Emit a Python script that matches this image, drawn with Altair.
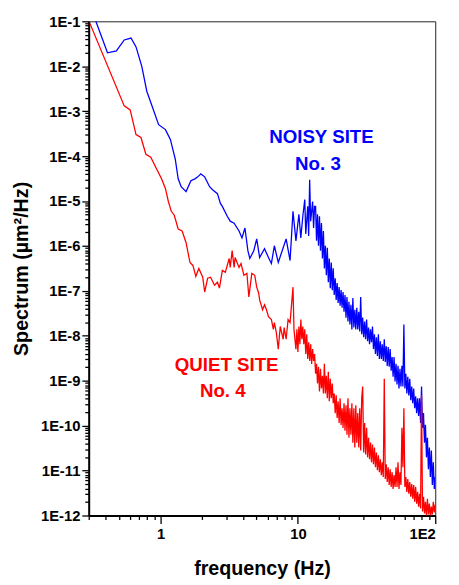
import altair as alt
import pandas as pd

# ---- data (frequency in Hz, spectrum in um^2/Hz) ----
# NOISY SITE No. 3 : low-frequency part
noisy_freq_low = [
    0.338, 0.411, 0.477, 0.544, 0.61, 0.663, 0.731, 0.794, 0.862, 0.968,
    1.086, 1.179, 1.28, 1.344, 1.413, 1.534, 1.664, 1.778, 1.868, 1.963,
    2.096, 2.276, 2.392, 2.595, 2.728, 2.818, 3.059, 3.215, 3.433, 3.728,
    3.917, 4.115, 4.324, 4.468, 4.773, 5.012, 5.266, 5.715, 6.105, 6.413,
    6.738, 7.197, 7.814, 8.21, 8.769, 9.21, 9.676, 10.17, 10.5, 10.86,
    11.22, 11.41, 11.79, 11.98, 12.18, 12.39, 12.8, 13.01, 13.22,
]
noisy_spec_low = [
    1e-1, 1.99e-2, 2.2e-2, 3.84e-2, 4.25e-2, 2.69e-2, 9.8e-3, 2.78e-3, 1.37e-3, 5.0e-4,
    3.89e-4, 2.35e-4, 8.57e-5, 3.12e-5, 2.08e-5, 1.62e-5, 2.82e-5, 3.12e-5, 3.45e-5, 4.02e-5,
    3.45e-5, 2.08e-5, 1.79e-5, 1.46e-5, 8.85e-6, 7.6e-6, 4.59e-6, 3.56e-6, 3.22e-6, 2.15e-6,
    1.51e-6, 2.51e-6, 7.85e-7, 5.25e-7, 7.85e-7, 1.44e-6, 5.51e-7, 8.68e-7, 5.51e-7, 4.07e-7,
    1.01e-6, 4.28e-7, 9.13e-7, 1.44e-6, 4.74e-7, 5.9e-6, 1.3e-6, 5.08e-6, 1.51e-6, 4.59e-6,
    1.08e-5, 1.85e-6, 7.6e-6, 1.67e-6, 2.96e-5, 3.56e-6, 9.77e-6, 2.51e-6, 7.6e-6,
]
# NOISY SITE No. 3 : dense high-frequency part
noisy_freq_high = [
    13.45, 13.67, 13.89, 14.12, 14.36, 14.60, 14.84, 15.09, 15.34, 15.59,
    15.85, 16.11, 16.38, 16.65, 16.93, 17.21, 17.50, 17.79, 18.08, 18.38,
    18.69, 19.00, 19.31, 19.63, 19.96, 20.29, 20.63, 20.97, 21.32, 21.67,
    22.03, 22.40, 22.77, 23.15, 23.53, 23.92, 24.32, 24.72, 25.13, 25.55,
    25.97, 26.40, 26.84, 27.28, 27.74, 28.20, 28.66, 29.14, 29.62, 30.11,
    30.61, 31.12, 31.64, 32.16, 32.70, 33.24, 33.79, 34.35, 34.92, 35.50,
    36.09, 36.69, 37.30, 37.92, 38.55, 39.19, 39.84, 40.50, 41.17, 41.85,
    42.55, 43.25, 43.97, 44.70, 45.44, 46.19, 46.96, 47.74, 48.53, 49.33,
    50.15, 50.98, 51.83, 52.69, 53.56, 54.45, 55.35, 56.27, 57.20, 58.15,
    59.11, 60.09, 61.09, 62.10, 63.13, 64.18, 65.24, 66.32, 67.42, 68.54,
    69.68, 70.83, 72.01, 73.20, 74.41, 75.65, 76.90, 78.18, 79.47, 80.79,
    82.13, 83.49, 84.87, 86.28, 87.71, 89.16, 90.64, 92.14, 93.67, 95.22,
    96.80, 98.40, 100.0,
]
noisy_spec_high = [
    7.60e-6, 1.30e-6, 5.08e-6, 1.01e-6, 4.59e-6, 7.85e-7, 3.22e-6, 5.24e-7, 2.15e-6, 3.17e-7,
    1.01e-6, 2.22e-7, 9.13e-7, 1.56e-7, 5.24e-7, 1.15e-7, 4.28e-7, 1.04e-7, 3.17e-7, 8.10e-8,
    1.91e-7, 6.30e-8, 1.49e-7, 5.41e-8, 1.21e-7, 4.65e-8, 1.04e-7, 4.21e-8, 9.43e-8, 3.44e-8,
    8.10e-8, 2.54e-8, 7.33e-8, 2.08e-8, 5.69e-8, 1.78e-8, 4.90e-8, 1.39e-8, 6.97e-8, 1.53e-8,
    3.80e-8, 1.39e-8, 4.21e-8, 1.39e-8, 3.44e-8, 1.25e-8, 7.33e-8, 1.08e-8, 2.54e-8, 9.26e-9,
    2.08e-8, 8.37e-9, 2.30e-8, 7.57e-9, 1.53e-8, 6.51e-9, 1.39e-8, 7.19e-9, 1.61e-8, 5.06e-9,
    1.08e-8, 3.93e-9, 9.26e-9, 3.55e-9, 1.08e-8, 3.05e-9, 7.57e-9, 3.05e-9, 6.51e-9, 2.76e-9,
    8.37e-9, 2.62e-9, 5.88e-9, 2.14e-9, 5.59e-9, 2.04e-9, 5.06e-9, 1.67e-9, 3.38e-9, 1.23e-9,
    3.38e-9, 9.57e-10, 2.37e-9, 8.22e-10, 2.14e-9, 6.72e-10, 1.84e-9, 7.43e-10, 2.14e-9, 7.43e-10,
    1.78e-8, 6.72e-10, 1.43e-9, 5.22e-10, 1.23e-9, 4.72e-10, 1.11e-9, 3.67e-10, 7.43e-10, 3.15e-10,
    6.72e-10, 2.45e-10, 4.49e-10, 1.90e-10, 4.06e-10, 1.64e-10, 4.06e-10, 1.15e-10, 7.43e-10, 8.93e-11,
    1.90e-10, 4.19e-11, 1.04e-10, 1.97e-11, 5.39e-11, 1.07e-11, 3.26e-11, 7.17e-12, 2.80e-11, 4.79e-12,
    1.53e-11, 3.91e-12, 7.17e-12,
]

# QUIET SITE No. 4 : low-frequency part
quiet_freq_low = [
    0.306, 0.544, 0.601, 0.663, 0.72, 0.782, 0.849, 0.921, 1.017, 1.086,
    1.14, 1.198, 1.259, 1.344, 1.436, 1.534, 1.638, 1.72, 1.807, 1.9,
    2.028, 2.096, 2.202, 2.313, 2.471, 2.595, 2.683, 2.818, 2.961, 3.162,
    3.215, 3.322, 3.433, 3.49, 3.728, 3.853, 4.048, 4.253, 4.395, 4.618,
    4.852, 5.012, 5.18, 5.266, 5.53, 5.715, 5.906, 6.105, 6.413, 6.628,
    6.738, 6.964, 7.197, 7.438, 7.814, 7.943, 8.21, 8.484, 8.769, 9.21,
    9.363,
]
quiet_spec_low = [
    9e-2, 1.31e-3, 1.07e-3, 3.02e-4, 2.6e-4, 1.1e-4, 9.46e-5, 5.71e-5, 3.12e-5, 1.88e-5,
    9.77e-6, 5.9e-6, 4.83e-6, 2.38e-6, 2.15e-6, 1.18e-6, 4.28e-7, 3.68e-7, 2.11e-7, 3.16e-7,
    2.01e-7, 9.43e-8, 1.91e-7, 2.01e-7, 1.34e-7, 1.56e-7, 1.15e-7, 2.86e-7, 2.59e-7, 5.25e-7,
    3.33e-7, 7.85e-7, 3.33e-7, 5.51e-7, 3.33e-7, 4.07e-7, 2.22e-7, 2.46e-7, 7.33e-8, 2.46e-7,
    2.22e-7, 1.21e-7, 8.97e-8, 6.3e-8, 3.8e-8, 4.9e-8, 3.8e-8, 2.67e-8, 2.3e-8, 1.39e-8,
    1.97e-8, 1.19e-8, 5.06e-9, 1.61e-8, 8.38e-9, 1.53e-8, 8.38e-9, 2.3e-8, 1.97e-8, 1.21e-7,
    1.39e-8,
]
# QUIET SITE No. 4 : dense high-frequency part
quiet_freq_high = [
    9.676, 9.837, 10.0, 10.17, 10.34, 10.51, 10.68, 10.86, 11.04, 11.22,
    11.41, 11.60, 11.79, 11.99, 12.19, 12.39, 12.59, 12.80, 13.02, 13.23,
    13.45, 13.67, 13.89, 14.12, 14.36, 14.60, 14.84, 15.09, 15.34, 15.59,
    15.85, 16.11, 16.38, 16.65, 16.93, 17.21, 17.50, 17.79, 18.08, 18.38,
    18.69, 19.00, 19.31, 19.63, 19.96, 20.29, 20.63, 20.97, 21.32, 21.67,
    22.03, 22.40, 22.77, 23.15, 23.53, 23.92, 24.32, 24.72, 25.13, 25.55,
    25.97, 26.40, 26.84, 27.28, 27.74, 28.20, 28.66, 29.14, 29.62, 30.11,
    30.61, 31.12, 31.64, 32.16, 32.70, 33.24, 33.79, 34.35, 34.92, 35.50,
    36.09, 36.69, 37.30, 37.92, 38.55, 39.19, 39.84, 40.50, 41.17, 41.85,
    42.55, 43.25, 43.97, 44.70, 45.44, 46.19, 46.96, 47.74, 48.53, 49.33,
    50.15, 50.98, 51.83, 52.69, 53.56, 54.45, 55.35, 56.27, 57.20, 58.15,
    59.11, 60.09, 61.09, 62.10, 63.13, 64.18, 65.24, 66.32, 67.42, 68.54,
    69.68, 70.83, 72.01, 73.20, 74.41, 75.65, 76.90, 78.18, 79.47, 80.79,
    82.13, 83.49, 84.87, 86.28, 87.71, 89.16, 90.64, 92.14, 93.67, 95.22,
    96.80, 98.40, 100.0,
]
quiet_spec_high = [
    5.06e-9, 1.39e-8, 4.35e-9, 1.61e-8, 6.51e-9, 2.30e-8, 8.37e-9, 1.61e-8, 6.51e-9, 1.39e-8,
    3.93e-9, 1.08e-8, 3.05e-9, 7.19e-9, 2.76e-9, 6.51e-9, 2.37e-9, 5.06e-9, 2.76e-9, 3.93e-9,
    1.43e-9, 2.37e-9, 8.65e-10, 2.04e-9, 5.78e-10, 1.84e-9, 6.72e-10, 1.29e-9, 5.22e-10, 2.37e-9,
    5.22e-10, 1.29e-9, 4.06e-10, 1.58e-9, 3.49e-10, 1.11e-9, 4.06e-10, 8.65e-10, 3.15e-10, 5.22e-10,
    1.90e-10, 4.72e-10, 1.48e-10, 3.49e-10, 1.15e-10, 4.06e-10, 1.04e-10, 2.45e-10, 8.93e-11, 3.15e-10,
    7.68e-11, 2.85e-10, 6.27e-11, 4.06e-10, 5.39e-11, 2.45e-10, 6.27e-11, 3.15e-10, 4.19e-11, 2.45e-10,
    3.26e-11, 2.85e-10, 4.19e-11, 1.90e-10, 3.26e-11, 2.45e-10, 2.80e-11, 4.06e-10, 7.43e-10, 2.53e-11,
    1.15e-10, 2.29e-11, 8.93e-11, 1.97e-11, 5.39e-11, 1.78e-11, 4.19e-11, 1.53e-11, 3.79e-11, 1.38e-11,
    3.26e-11, 1.19e-11, 2.53e-11, 1.02e-11, 2.18e-11, 9.22e-12, 1.78e-11, 7.93e-12, 1.53e-11, 7.17e-12,
    1.11e-9, 6.48e-12, 1.38e-11, 5.57e-12, 1.19e-11, 4.79e-12, 1.07e-11, 4.33e-12, 9.22e-12, 3.91e-12,
    7.93e-12, 4.33e-12, 1.19e-11, 4.33e-12, 1.53e-11, 3.91e-12, 9.22e-12, 4.79e-12, 8.93e-11, 1.19e-11,
    2.45e-10, 4.33e-12, 7.17e-12, 3.36e-12, 6.48e-12, 3.04e-12, 5.57e-12, 2.61e-12, 5.04e-12, 2.36e-12,
    4.79e-12, 2.03e-12, 4.33e-12, 1.84e-12, 3.36e-12, 1.58e-12, 3.04e-12, 1.43e-12, 4.72e-10, 1.23e-12,
    2.61e-12, 1.11e-12, 2.03e-12, 9.53e-13, 2.36e-12, 1.05e-12, 1.84e-12, 9.53e-13, 1.58e-12, 1.05e-12,
    2.03e-12, 1.17e-12, 1.75e-12,
]

note_text = ["NOISY SITE", "No. 3", "QUIET SITE", "No. 4"]
note_freq = [14.84, 14.0, 3.03, 2.84]
note_spec = [2.6e-4, 6.65e-5, 2.25e-9, 5.78e-10]
note_site = ["noisy", "noisy", "quiet", "quiet"]

x_ticks = [k / 10 for k in range(3, 10)] + list(range(1, 10)) + [10 * k for k in range(1, 10)] + [100]
y_ticks = [k * 10.0 ** e for e in range(-12, -1) for k in range(1, 10)] + [0.1]

assert len(noisy_freq_low) == len(noisy_spec_low)
assert len(noisy_freq_high) == len(noisy_spec_high)
assert len(quiet_freq_low) == len(quiet_spec_low)
assert len(quiet_freq_high) == len(quiet_spec_high)

BLUE = "#0000ff"
RED = "#ff0000"
FONT = "Liberation Sans"

noisy_df = pd.DataFrame({"freq": noisy_freq_low + noisy_freq_high,
                         "spec": noisy_spec_low + noisy_spec_high})
quiet_df = pd.DataFrame({"freq": quiet_freq_low + quiet_freq_high,
                         "spec": quiet_spec_low + quiet_spec_high})
notes_df = pd.DataFrame({"text": note_text, "freq": note_freq, "spec": note_spec, "site": note_site})

major = "abs(log(datum.value)/LN10 - round(log(datum.value)/LN10)) < 0.01"

x_scale = alt.Scale(type="log", domain=[0.3, 100], nice=False)
y_scale = alt.Scale(type="log", domain=[1e-12, 1e-1], nice=False)

x_axis = alt.Axis(
    title="frequency (Hz)",
    values=x_ticks,
    labelExpr="datum.value == 1 ? '1' : datum.value == 10 ? '10' : datum.value == 100 ? '1E2' : ''",
    tickSize={"condition": {"test": major, "value": 8}, "value": 4},
    labelOverlap=False,
    labelPadding=3,
    titleX=176,
    titleY=54,
    titleBaseline="middle",
    titleAlign="center",
)
y_axis = alt.Axis(
    title="Spectrum (µm²/Hz)",
    values=y_ticks,
    labelExpr=major + " ? '1E' + round(log(datum.value)/LN10) : ''",
    tickSize={"condition": {"test": major, "value": 7}, "value": 4},
    labelOverlap=False,
    labelPadding=2,
    titleX=-68,
    titleY=251,
    titleBaseline="middle",
    titleAlign="center",
)

noisy = alt.Chart(noisy_df).mark_line(color=BLUE, strokeWidth=1.3, clip=True).encode(
    x=alt.X("freq:Q", scale=x_scale, axis=x_axis),
    y=alt.Y("spec:Q", scale=y_scale, axis=y_axis),
)
quiet = alt.Chart(quiet_df).mark_line(color=RED, strokeWidth=1.3, clip=True).encode(
    x=alt.X("freq:Q", scale=x_scale),
    y=alt.Y("spec:Q", scale=y_scale),
)
notes = alt.Chart(notes_df).mark_text(
    font=FONT, fontSize=19, fontWeight="bold", align="center", baseline="middle"
).encode(
    x=alt.X("freq:Q", scale=x_scale),
    y=alt.Y("spec:Q", scale=y_scale),
    text="text:N",
    color=alt.Color("site:N", scale=alt.Scale(domain=["noisy", "quiet"], range=[BLUE, RED]), legend=None),
)

chart = (
    alt.layer(noisy, quiet, notes)
    .properties(
        width=352,
        height=502,
        autosize=alt.AutoSizeParams(type="none"),
        padding={"left": 82, "top": 9, "right": 16, "bottom": 62},
    )
    .configure_view(stroke="#222222", strokeWidth=1)
    .configure_axis(
        grid=False,
        domainColor="black",
        domainWidth=2,
        tickColor="black",
        tickWidth=1.3,
        labelFont=FONT,
        labelFontSize=15,
        labelFontWeight="bold",
        labelColor="black",
        titleFont=FONT,
        titleFontSize=20,
        titleFontWeight="bold",
        titleColor="black",
    )
)

chart.save("out.html", embed_options={"renderer": "svg", "actions": False})
